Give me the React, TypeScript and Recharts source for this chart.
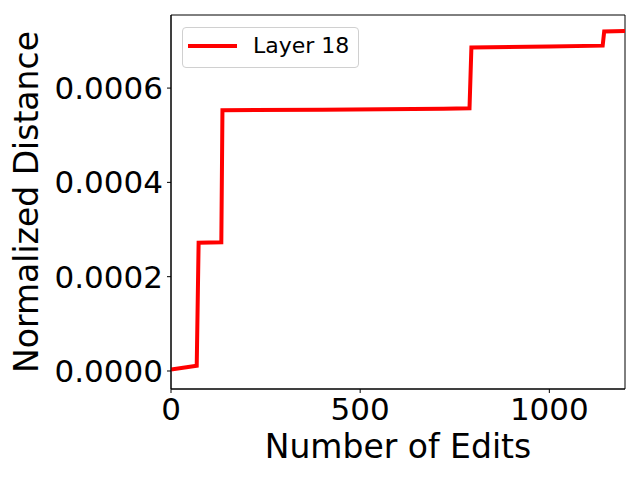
import React from 'react';
import { LineChart, Line, XAxis, YAxis, Label, ReferenceArea } from 'recharts';

// edits along x, normalized distance along y
const edits = [0, 68, 73, 133, 136, 400, 720, 789, 794, 1000, 1141, 1145, 1200];
const distance = [0.000003, 0.000011, 0.000272, 0.000273, 0.000553, 0.000554, 0.000556, 0.000557, 0.000686, 0.000688, 0.00069, 0.00072, 0.000721];
const xTicks = [0, 500, 1000];
const yTicks = [0, 0.0002, 0.0004, 0.0006];
const seriesName = 'Layer 18';

const X_DOMAIN: [number, number] = [0, 1200];
const Y_DOMAIN: [number, number] = [-0.0000382, 0.000755];

const data = edits.map((e, i) => ({ edits: e, dist: distance[i] }));

const FONT = 'DejaVu Sans';

// matplotlib-style legend box in the upper left of the axes
const LegendBox = () => (
  <div
    style={{
      position: 'absolute',
      left: 182,
      top: 27,
      width: 177,
      height: 41,
      border: '1px solid #d0d0d0',
      borderRadius: 4,
      background: 'rgba(255,255,255,0.8)',
      boxSizing: 'border-box',
      fontFamily: FONT,
      fontSize: 22,
      color: '#000',
    }}
  >
    <div style={{ position: 'absolute', left: 5, top: 16, width: 49, height: 4, background: '#ff0000' }} />
    <span style={{ position: 'absolute', left: 70, top: 4, lineHeight: '28px', whiteSpace: 'nowrap' }}>{seriesName}</span>
  </div>
);

export default function App() {
  return (
    <div style={{ position: 'absolute', left: 0, top: 0, width: 640, height: 480, background: '#fff' }}>
      <LineChart width={640} height={480} data={data} margin={{ top: 15, right: 15, bottom: 0, left: 0 }}>
        <XAxis
          dataKey="edits"
          type="number"
          domain={X_DOMAIN}
          ticks={xTicks}
          height={91}
          stroke="#000"
          tickSize={4}
          tickMargin={5}
          tick={{ fontSize: 31, fill: '#000', fontFamily: FONT }}
          allowDataOverflow
        >
          <Label value="Number of Edits" position="insideBottom" offset={22} fill="#000" fontSize={33} fontFamily={FONT} />
        </XAxis>
        <YAxis
          type="number"
          domain={Y_DOMAIN}
          ticks={yTicks}
          width={171}
          stroke="#000"
          tickSize={4}
          tickMargin={4}
          tickFormatter={(v: number) => v.toFixed(4)}
          tick={{ fontSize: 31, fill: '#000', fontFamily: FONT }}
          allowDataOverflow
        >
          <Label value="Normalized Distance" angle={-90} position="insideLeft" offset={26} style={{ textAnchor: 'middle' }} fill="#000" fontSize={33} fontFamily={FONT} />
        </YAxis>
        <ReferenceArea x1={X_DOMAIN[0]} x2={X_DOMAIN[1]} y1={Y_DOMAIN[0]} y2={Y_DOMAIN[1]} fill="none" fillOpacity={0} stroke="#000" strokeWidth={1} ifOverflow="visible" />
        <Line type="linear" dataKey="dist" stroke="#ff0000" strokeWidth={4} dot={false} isAnimationActive={false} name={seriesName} />
      </LineChart>
      <LegendBox />
    </div>
  );
}
